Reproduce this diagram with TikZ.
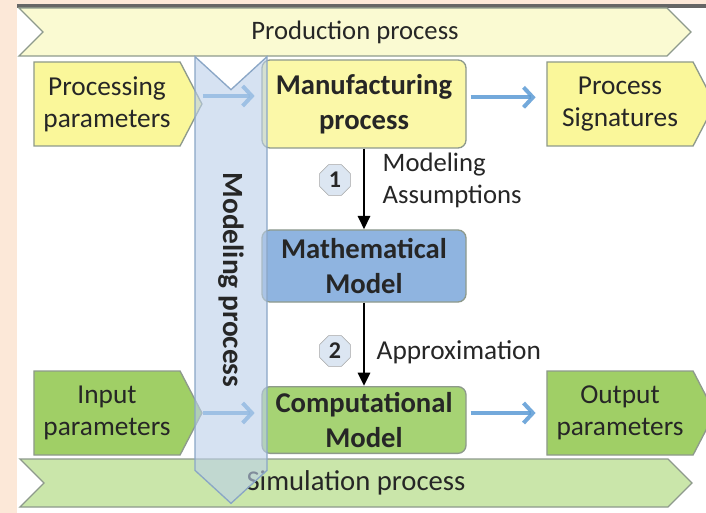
\documentclass[tikz,border=0pt]{standalone}
\usepackage{fontspec}
\setmainfont{Carlito}
\usetikzlibrary{shapes.symbols,shapes.geometric,arrows.meta}

\definecolor{peach}{HTML}{FCE8D8}
\definecolor{prodfill}{HTML}{FAFAD2}
\definecolor{yelfill}{HTML}{FAF79A}
\definecolor{manfill}{HTML}{FBF8A8}
\definecolor{mathfill}{HTML}{8FB4E0}
\definecolor{grnfill}{HTML}{A0CF66}
\definecolor{compfill}{HTML}{A6D374}
\definecolor{simfill}{HTML}{CAE6AA}
\definecolor{bandfill}{HTML}{BCD0EA}
\definecolor{bandedge}{HTML}{8AA6C6}
\definecolor{badgefill}{HTML}{DCE6F2}
\definecolor{arrowblue}{HTML}{5B9BD5}
\definecolor{edgegray}{HTML}{8E9A8C}

\begin{document}
\begin{tikzpicture}[x=0.75pt,y=-0.75pt,
    every node/.style={font=\fontsize{20}{24}\selectfont,text=black!85,align=center},
    banner/.style={signal,signal to=east,signal from=west,draw=edgegray,line width=1pt,minimum width=504pt,minimum height=36pt,inner sep=0pt},
    param/.style={signal,signal to=east,draw=edgegray,line width=1pt,minimum width=126pt,minimum height=63pt,inner sep=0pt,signal pointer angle=125,
      font=\fontsize{20.5}{24}\selectfont},
    box/.style={draw=edgegray,rounded corners=6pt,line width=1pt,minimum width=153pt,inner sep=0pt,font=\fontsize{21.5}{26}\selectfont\bfseries},
    badge/.style={regular polygon,regular polygon sides=8,draw=gray!70,fill=badgefill,minimum size=25pt,inner sep=0pt,font=\fontsize{18}{18}\selectfont\bfseries},
    flow/.style={draw=arrowblue,draw opacity=0.85,line width=3pt,-{Straight Barb[length=7pt,width=15pt]}},
    modelarrow/.style={draw=black,line width=2.2pt,-{Triangle[length=10pt,width=9pt]}}
  ]
  % page and frame
  \useasboundingbox (0,0) rectangle (706,513);
  \fill[peach] (0,0) rectangle (706,513);
  \fill[white] (17,6) rectangle (706,513);
  \fill[black!60] (17,4) rectangle (706,8);

  % the two process banners
  \node[banner,fill=prodfill] (prod) at (355,32) {Production process};
  \node[banner,fill=simfill,font=\fontsize{21.5}{24}\selectfont] (sim) at (356,483) {Simulation process};

  % production row
  \node[param,fill=yelfill] (procpar) at (107,104) {Processing\\parameters};
  \node[box,fill=manfill,minimum height=66pt] (manu) at (364,104) {Manufacturing\\process};
  \node[param,fill=yelfill] (sig) at (620,104) {Process\\Signatures};

  % model in the middle
  \node[box,fill=mathfill,minimum height=54pt] (math) at (364,266) {Mathematical\\Model};

  % simulation row
  \node[param,fill=grnfill] (inpar) at (107,413) {Input\\parameters};
  \node[box,fill=compfill,minimum height=50pt] (comp) at (364,420) {Computational\\Model};
  \node[param,fill=grnfill] (outpar) at (620,413) {Output\\parameters};

  \draw[flow,shorten >=5pt] ([yshift=6pt]procpar.east) -- ([yshift=6pt]manu.west |- procpar.east);
  \draw[flow,shorten <=3pt,shorten >=8pt] ([yshift=5pt]manu.east |- sig.west) -- ([yshift=5pt]sig.west);
  \draw[flow,shorten >=5pt] (inpar.east) -- (comp.west |- inpar.east);
  \draw[flow,shorten <=3pt,shorten >=8pt] (comp.east |- outpar.west) -- (outpar.west);

  % modeling steps
  \draw[modelarrow] (manu.south) -- (math.north);
  \draw[modelarrow] (math.south) -- (comp.north);
  \node[badge] (one) at (335,180) {1};
  \node[anchor=west,align=left] (assume) at (378,180) {Modeling\\Assumptions};
  \node[badge] (two) at (335,351) {2};
  \node[anchor=west,font=\fontsize{20.5}{24}\selectfont] (approx) at (372,352) {Approximation};

  % modeling band across everything
  \node[signal,signal to=east,signal from=west,rotate=-90,draw=bandedge,line width=1pt,
        fill=bandfill,fill opacity=0.6,text opacity=1,minimum width=335pt,minimum height=54pt,
        signal pointer angle=95,inner sep=0pt,font=\fontsize{22}{24}\selectfont\bfseries]
        (modproc) at (231,280) {Modeling process};
\end{tikzpicture}
\end{document}
